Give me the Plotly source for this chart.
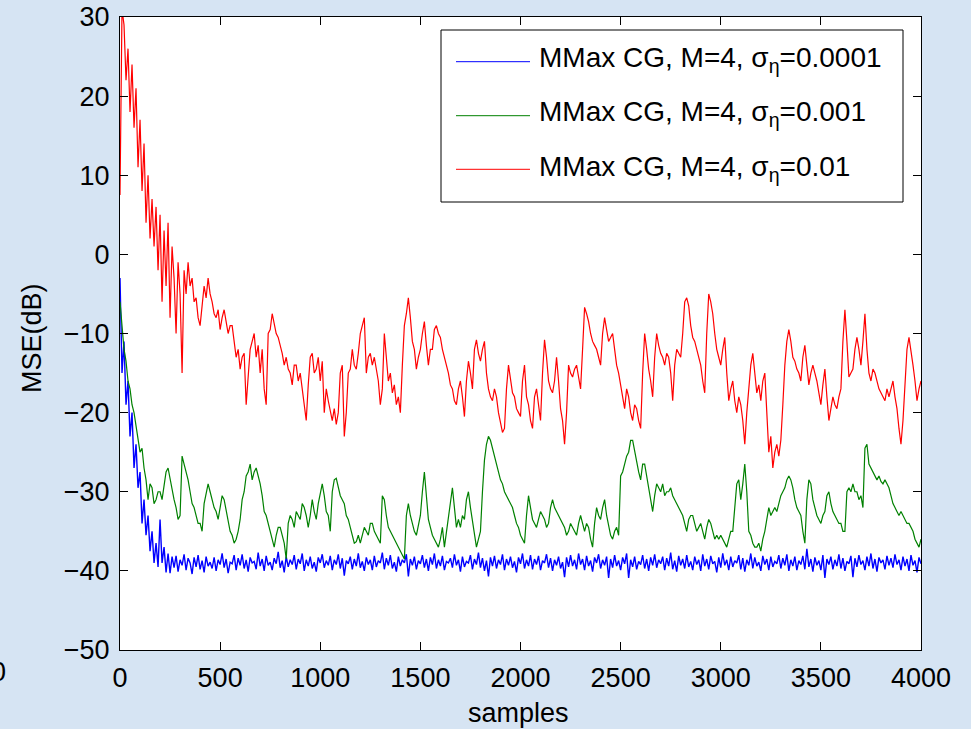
import plotly.graph_objects as go

# ---------------- data ----------------
samples = list(range(0, 4001, 10))

mse_sigma_0001 = [  # blue, sigma_eta = 0.0001
    -3, -15, -11, -19, -16, -23, -20, -27, -24, -29.5, -27.5, -34, -31, -35.5, -33, -37.5, -35, -39, -36.5, -39.5,
    -33.5, -39, -37, -40.2, -37.8, -40.3, -38.2,
    -39.6, -38.1, -40.1, -38.6, -39.3, -37.9, -39.9, -38.4, -39.0, -40.4, -38.3, -39.5, -38.0, -39.8, -38.7, -40.2, -38.2, -39.4, -38.9, -39.7,
    -38.3, -40.0, -38.6, -39.2, -37.8, -39.6, -38.5, -40.3, -38.9, -39.1, -38.0, -39.9, -38.4, -39.3, -37.9, -39.7, -38.6, -40.1, -38.3, -39.0,
    -38.8, -39.8, -37.7, -39.4, -38.5, -40.0, -38.1, -39.3, -38.9, -39.9, -38.4, -39.1, -37.6, -39.6, -38.7, -40.2, -38.2, -39.5, -38.6, -39.2,
    -38.0, -39.8, -38.5, -39.1, -37.8, -40.0, -38.6, -39.4, -38.2, -39.7, -38.9, -40.1, -38.3, -39.0, -37.9, -39.6, -38.7, -39.3, -38.1, -39.9,
    -38.6, -39.2, -37.9, -39.7, -38.4, -40.6, -38.7, -39.1, -38.2, -39.8, -38.5, -39.4, -37.8, -39.6, -38.8, -40.0, -38.3, -39.2, -38.6, -39.9,
    -38.1, -39.5, -38.7, -39.0, -37.7, -39.8, -38.4, -39.3, -38.0, -39.7, -38.9, -40.1, -38.2, -39.4, -38.6, -39.0, -37.9, -40.7, -38.5, -39.3,
    -38.2, -39.8, -38.7, -39.1, -38.0, -39.6, -38.5, -40.0, -38.3, -39.2, -37.8, -39.7, -38.6, -39.4, -38.1, -39.9, -38.8, -39.0, -38.4, -39.6,
    -37.9, -39.3, -38.6, -40.1, -38.2, -39.5, -38.8, -39.0, -38.0, -39.8, -38.5, -39.2, -37.7, -39.6, -38.4, -40.0, -38.7, -40.7, -38.3, -39.4,
    -38.1, -39.7, -38.6, -39.2, -37.9, -39.9, -38.5, -39.3, -38.2, -39.6, -38.8, -40.2, -38.3, -39.1, -37.8, -39.7, -38.6, -39.4, -38.0, -39.8,
    -38.5, -39.2, -38.1, -39.9, -38.7, -39.0, -37.9, -39.6, -38.4, -40.0, -38.6, -39.3, -38.2, -39.7, -38.9, -40.8, -38.3, -39.5, -38.0, -39.4,
    -38.6, -39.8, -37.8, -39.2, -38.5, -39.9, -38.1, -39.4, -38.7, -40.1, -38.3, -39.0, -37.9, -39.7, -38.6, -39.3, -38.2, -40.9, -38.5, -39.6,
    -38.0, -39.4, -38.7, -39.9, -38.3, -39.1, -37.8, -40.9, -38.6, -39.5, -38.2, -39.8, -38.8, -39.2, -38.0, -39.7, -38.5, -40.0, -38.3, -39.3,
    -37.9, -39.6, -38.6, -39.1, -38.2, -39.9, -38.4, -39.4, -37.7, -39.8, -38.7, -40.1, -38.1, -39.3, -38.5, -39.7, -38.0, -39.5, -38.8, -39.9,
    -38.2, -39.2, -38.6, -40.0, -37.9, -39.4, -38.5, -39.8, -38.1, -39.1, -38.8, -40.2, -38.3, -39.6, -37.8, -39.3, -38.6, -39.9, -38.2, -39.5,
    -38.7, -39.0, -38.0, -39.8, -38.4, -40.1, -38.6, -39.3, -37.8, -39.7, -38.3, -39.4, -38.9, -40.0, -38.1, -39.2, -38.5, -39.9, -38.2, -39.5,
    -38.8, -39.1, -38.0, -39.7, -38.4, -39.3, -37.9, -40.0, -38.6, -39.4, -38.2, -39.9, -38.7, -39.2, -38.1, -39.8, -37.2, -39.5, -38.5, -40.1,
    -38.3, -39.3, -38.7, -39.9, -38.0, -40.9, -38.5, -39.2, -38.2, -39.8, -38.6, -39.4, -37.9, -39.7, -38.4, -40.0, -38.8, -39.1, -38.1, -40.8,
    -38.4, -39.5, -38.0, -39.2, -38.7, -39.9, -38.2, -39.4, -37.8, -39.7, -38.5, -40.1, -38.3, -39.0, -38.6, -39.8, -38.1, -39.3, -38.4, -39.6,
    -37.9, -39.2, -38.6, -39.9, -38.2, -39.4, -38.5, -40.0, -38.0, -39.3, -38.7, -40.2, -38.3, -39.1,
]

mse_sigma_001 = [  # green, sigma_eta = 0.001
    -6, -9, -12, -13.5, -16, -17, -19, -20, -21.5, -23,
    -25, -24.5, -27, -28.5, -31, -29, -29.5, -31.5, -31, -30,
    -30, -31, -29, -27.5, -27, -28.5, -29.5, -31, -32, -33.5,
    -33, -25.5, -26.5, -27.5, -28.5, -30, -31.5, -32, -33, -34,
    -34, -35, -31.5, -30, -29, -30, -31, -32, -32.5, -33.5,
    -32, -30.5, -31, -32.5, -34, -35, -35.5, -36.5, -36, -35,
    -33.5, -31, -30, -28, -27.5, -26.5, -28.5, -27.5, -27, -28,
    -29, -30.5, -32.5, -33, -34, -35, -36, -37, -35.5, -34.5,
    -34.5, -35.5, -36.5, -38.5, -34, -33, -33.5, -34.5, -32.5, -33,
    -33.5, -31.5, -32, -33, -34.5, -33, -31, -32.5, -33.5, -31.5,
    -30, -29, -30.5, -32.5, -33, -35, -30, -28.5, -28.3, -29.5,
    -30.5, -31, -31.5, -33, -33.5, -34.5, -35.5, -36.5, -36.3, -35.5,
    -36.5, -35.5, -34.5, -35, -35.5, -34, -34, -35, -35.5, -36,
    -36.5, -30.5, -31, -33, -34.5, -35, -35.5, -36, -36.5, -37,
    -37.5, -38, -38.5, -33, -31.5, -33, -34, -35, -35.5, -34,
    -33, -30, -27.5, -30.5, -33.5, -34.5, -35.5, -36, -36.5, -37,
    -36, -34.5, -37, -35, -33.5, -31, -29.5, -32, -34.5, -33.5,
    -34.5, -33, -33.5, -31, -30, -32, -33.5, -35, -37, -36,
    -35, -30, -26, -24, -23, -23.5, -24.5, -25.5, -26.5, -27.5,
    -28.5, -29, -30, -30.5, -31, -31.5, -32, -33, -34, -34.5,
    -35.5, -36, -36.5, -33, -30.5, -32, -33.5, -34, -34.5, -33.5,
    -32.5, -33, -33.5, -34.5, -34, -32, -31, -32, -32.5, -33,
    -33.5, -34, -34.5, -35.5, -35, -34, -34.5, -35, -35.5, -34,
    -33, -34, -35, -34, -34.5, -36, -37, -34, -32, -33,
    -33.5, -32, -31, -33, -34.5, -35.5, -36, -35, -34.5, -35.5,
    -28, -27.5, -26.5, -25.5, -25, -23.5, -23.5, -25, -26.5, -27.5,
    -28.5, -26.5, -26.5, -28, -29, -31, -32.5, -30.5, -29, -29.5,
    -30, -29, -30.5, -30, -30, -29.5, -30.5, -31, -31.5, -32,
    -32.5, -33, -34, -35, -33.5, -33, -33, -34, -35, -34.5,
    -34, -35, -36, -34.5, -33.5, -34, -35, -36, -35.5, -36,
    -35.5, -36, -36.5, -37, -36, -35, -35, -32, -29, -28.5,
    -31, -29, -26.5, -30, -35, -35.5, -36.5, -37, -37, -36.5,
    -37.5, -36, -35, -33.5, -32, -33, -32.5, -32, -32.5, -31.5,
    -30.5, -30, -29.5, -28.5, -28, -28.5, -29.5, -31, -32, -32.5,
    -33, -35, -36.5, -31, -28.5, -29, -31, -32, -33, -33.5,
    -34, -33, -32.5, -30.5, -30, -31.5, -32.5, -33, -33.5, -34,
    -34, -35, -35, -30, -29.5, -30, -29, -30, -30, -31,
    -30.5, -32, -24.5, -24, -26.5, -27, -27.5, -28, -28.5, -28,
    -28.7, -29, -28.5, -29, -29.5, -30.5, -31.5, -32, -32.5, -33,
    -32.5, -33, -33.5, -34, -34, -34.5, -35, -36, -36.5, -37,
    -36,
]

mse_sigma_01 = [  # red, sigma_eta = 0.01
    7.5, 31, 29, 22, 26, 18, 24, 16, 21, 11,
    17, 8, 14, 4, 10, 2, 7, 1, 6, -2,
    5, -6, 3, -4, 4, -8, 1, -3, -10, -1,
    -5, -15, -2, -5, -1, -4, -3, -6, -5.5, -8,
    -9, -6.5, -4, -5.5, -3, -5, -6, -7.5, -8, -7,
    -9.5, -8, -7, -8.5, -10, -9, -9, -11, -13, -12,
    -14.5, -13, -12.5, -19, -15, -12, -11, -10, -13, -11.5,
    -15, -12, -17, -19, -10, -9.5, -7.5, -9, -10, -10.5,
    -11.5, -12.5, -14, -13, -14.5, -15, -16.5, -14, -14, -16,
    -15, -17, -19.5, -21, -16.5, -13, -12.5, -15, -14.5, -13,
    -16, -13.5, -20, -17, -18.5, -20, -21, -19.5, -21.5, -20,
    -15, -14, -23, -20, -15, -14.5, -12, -14, -14.5, -12.5,
    -10, -9, -8, -15, -13, -12.5, -14, -13, -14.5, -16,
    -19, -17, -10, -13, -16, -15, -17.5, -16.5, -19, -18,
    -20, -14, -9, -7.5, -5.5, -8, -11, -12, -14.5, -13,
    -12, -10, -8.5, -11.5, -14, -12, -12, -9.5, -9, -10,
    -10.5, -12, -13, -14, -15, -16.5, -17, -18.5, -19, -17,
    -16, -18, -20.5, -16, -13.5, -15, -17, -12, -10.8, -12.5,
    -13.5, -12, -11, -15, -17, -18, -18.5, -17, -18, -20,
    -21.5, -22.5, -22, -17, -14, -16, -17.5, -18, -19.5, -20,
    -20.5, -16, -14, -18, -19, -21, -22, -18, -17, -19,
    -21, -15, -10.8, -13, -16, -17, -17.5, -16, -13, -16,
    -19.5, -21, -24, -20, -14, -15, -15.5, -14.5, -14, -15.5,
    -17, -12, -6.7, -7.5, -8.5, -10, -11, -11.5, -12, -13,
    -14, -10, -8, -9.5, -11, -10.5, -10, -12, -14, -15,
    -16.5, -18, -19.5, -17, -18, -20, -21, -19, -19.5, -21,
    -22, -15, -10, -12, -14.5, -16, -18, -13, -10, -11.5,
    -12.5, -13, -14, -12.5, -13, -15, -18.5, -14, -12, -12.5,
    -13, -10, -6, -5.5, -6.5, -9, -10.5, -11, -12, -13,
    -14, -16, -17.5, -10, -5, -6, -7.5, -10, -12, -13,
    -14, -12, -10.5, -15, -18.5, -17, -16, -18.5, -20, -18,
    -19, -21, -24, -20, -17, -14, -12.5, -15, -17.5, -16.5,
    -18.5, -16, -15, -20, -25, -23, -27, -25, -24, -25.5,
    -23.5, -19, -14, -11, -9.5, -11, -13, -13.5, -14.5, -15,
    -16, -13, -11.5, -14, -16.5, -15, -14, -15, -16, -17.5,
    -19, -16.5, -14.5, -18, -21, -19.5, -18, -19, -19.5, -18,
    -17, -11, -7, -11, -15.5, -15, -14.5, -12, -10.5, -12,
    -14, -11, -7.5, -12, -15, -16, -14.5, -15, -16, -17,
    -17.5, -18, -18.5, -17, -18, -17, -16, -18, -19.5, -22,
    -24, -21, -16.5, -12, -10.5, -12, -14, -16, -18.5, -17,
    -16,
]

series_names = [
    "MMax CG, M=4, σ<sub>η</sub>=0.0001",
    "MMax CG, M=4, σ<sub>η</sub>=0.001",
    "MMax CG, M=4, σ<sub>η</sub>=0.01",
]
series_colors = ["#0000ff", "#008000", "#ff0000"]
series_widths = [1.4, 1.2, 1.2]

x_ticks = list(range(0, 4001, 500))
y_ticks = list(range(-50, 31, 10))

# ---------------- figure ----------------
W, H = 971, 729
L, R, T, B = 120, 50, 17, 79
PW, PH = W - L - R, H - T - B


def fx(px):
    return (px - L) / PW


def fy(py):
    return 1 - (py - T) / PH


fig = go.Figure()
for ys, name, col, wd in zip(
    [mse_sigma_0001, mse_sigma_001, mse_sigma_01], series_names, series_colors, series_widths
):
    fig.add_trace(go.Scatter(x=samples, y=ys, mode="lines", name=name,
                             line=dict(color=col, width=wd), showlegend=False))

FONT = "Liberation Sans, Arial, sans-serif"
axis_common = dict(showgrid=False, zeroline=False, ticks="inside", ticklen=8,
                   tickcolor="black", tickwidth=1, showline=True, linecolor="black",
                   linewidth=1, mirror="ticks", automargin=False,
                   tickfont=dict(size=27, color="black", family=FONT))

fig.update_xaxes(range=[0, 4000], tickvals=x_ticks, ticklabelstandoff=4, **axis_common)
fig.update_yaxes(range=[-50, 30], tickvals=y_ticks, ticklabelstandoff=4, **axis_common)

fig.update_layout(
    width=W, height=H,
    margin=dict(l=L, r=R, t=T, b=B, pad=0, autoexpand=False),
    paper_bgcolor="#d6e4f3",
    plot_bgcolor="white",
    font=dict(family=FONT, size=27, color="black"),
    showlegend=False,
)

annotations = [
    dict(text="MSE(dB)", x=fx(32), y=fy(338), xref="paper", yref="paper",
         textangle=-90, showarrow=False, xanchor="center", yanchor="middle",
         font=dict(size=27)),
    dict(text="samples", x=fx(518), y=fy(713), xref="paper", yref="paper",
         showarrow=False, xanchor="center", yanchor="middle", font=dict(size=27)),
    dict(text="0", x=fx(8), y=fy(672), xref="paper", yref="paper",
         showarrow=False, xanchor="right", yanchor="middle", font=dict(size=27)),
]

shapes = [dict(type="rect", xref="paper", yref="paper", x0=fx(441), x1=fx(903),
               y0=fy(202), y1=fy(30), line=dict(color="black", width=1),
               fillcolor="white", layer="above")]
row_line_y = [61.7, 115.7, 169.3]
row_text_y = [59, 113, 168]
for i in range(3):
    shapes.append(dict(type="line", xref="paper", yref="paper", x0=fx(456), x1=fx(530),
                       y0=fy(row_line_y[i]), y1=fy(row_line_y[i]),
                       line=dict(color=series_colors[i], width=1), layer="above"))
    annotations.append(dict(text=series_names[i], x=fx(537), y=fy(row_text_y[i]),
                            xref="paper", yref="paper", showarrow=False,
                            xanchor="left", yanchor="middle", font=dict(size=28)))

fig.update_layout(shapes=shapes, annotations=annotations)
fig.write_html("out.html", config={"displayModeBar": False},
               post_script="document.body.style.margin='0px';")
